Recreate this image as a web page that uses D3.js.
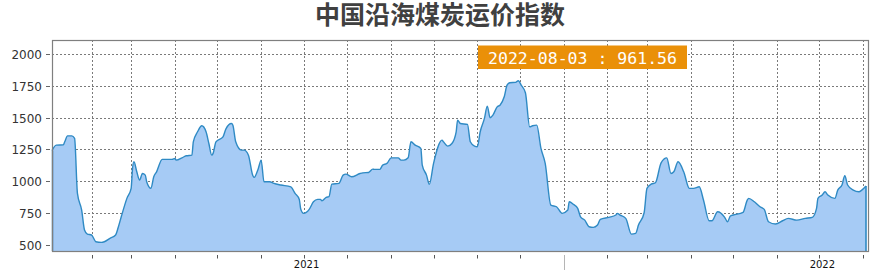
<!DOCTYPE html>
<html>
<head>
<meta charset="utf-8">
<script src="https://cdn.jsdelivr.net/npm/d3@7"></script>
<style>
  html, body { margin: 0; padding: 0; background: #fff; }
  svg { display: block; }
</style>
</head>
<body>
<svg id="chart" width="880" height="278"></svg>
<script>
const title = "中国沿海煤炭运价指数";
const dates = [
  "2021-01-04","2021-01-07","2021-01-12","2021-01-13","2021-01-15","2021-01-18","2021-01-20","2021-01-22","2021-01-25","2021-01-27",
  "2021-01-29","2021-02-01","2021-02-04","2021-02-08","2021-02-10","2021-02-14","2021-02-18","2021-02-20","2021-02-22","2021-02-26",
  "2021-03-01","2021-03-02","2021-03-03","2021-03-05","2021-03-07","2021-03-09","2021-03-11","2021-03-12","2021-03-15","2021-03-17",
  "2021-03-19","2021-03-23","2021-03-30","2021-04-01","2021-04-02","2021-04-06","2021-04-09","2021-04-13","2021-04-14","2021-04-17",
  "2021-04-20","2021-04-23","2021-04-25","2021-04-27","2021-04-28","2021-04-30","2021-05-05","2021-05-07","2021-05-11","2021-05-12",
  "2021-05-14","2021-05-18","2021-05-20","2021-05-23","2021-05-26","2021-05-27","2021-05-30","2021-06-01","2021-06-03","2021-06-07",
  "2021-06-10","2021-06-15","2021-06-22","2021-06-25","2021-06-28","2021-06-29","2021-07-01","2021-07-05","2021-07-08","2021-07-11",
  "2021-07-13","2021-07-14","2021-07-17","2021-07-19","2021-07-21","2021-07-26","2021-07-29","2021-07-31","2021-08-04","2021-08-10",
  "2021-08-12","2021-08-16","2021-08-19","2021-08-20","2021-08-24","2021-08-26","2021-08-29","2021-09-01","2021-09-06","2021-09-08",
  "2021-09-10","2021-09-13","2021-09-15","2021-09-18","2021-09-22","2021-09-23","2021-09-26","2021-09-28","2021-10-01","2021-10-07",
  "2021-10-08","2021-10-11","2021-10-14","2021-10-17","2021-10-18","2021-10-20","2021-10-25","2021-10-27","2021-10-30","2021-11-01",
  "2021-11-03","2021-11-06","2021-11-08","2021-11-10","2021-11-12","2021-11-15","2021-11-17","2021-11-20","2021-11-22","2021-11-24",
  "2021-11-28","2021-11-30","2021-12-02","2021-12-05","2021-12-08","2021-12-10","2021-12-13","2021-12-16","2021-12-19","2021-12-23",
  "2021-12-27","2021-12-31","2022-01-04","2022-01-05","2022-01-08","2022-01-11","2022-01-13","2022-01-16","2022-01-19","2022-01-22",
  "2022-01-25","2022-01-27","2022-02-02","2022-02-07","2022-02-08","2022-02-10","2022-02-14","2022-02-18","2022-02-21","2022-02-23",
  "2022-02-27","2022-03-01","2022-03-04","2022-03-07","2022-03-11","2022-03-15","2022-03-18","2022-03-20","2022-03-23","2022-03-27",
  "2022-03-31","2022-04-03","2022-04-07","2022-04-10","2022-04-14","2022-04-16","2022-04-20","2022-04-25","2022-04-27","2022-04-29",
  "2022-05-01","2022-05-08","2022-05-11","2022-05-12","2022-05-16","2022-05-20","2022-05-23","2022-05-26","2022-05-31","2022-06-05",
  "2022-06-09","2022-06-15","2022-06-21","2022-06-26","2022-06-29","2022-06-30","2022-07-03","2022-07-05","2022-07-07","2022-07-12",
  "2022-07-14","2022-07-17","2022-07-19","2022-07-21","2022-07-25","2022-07-29","2022-07-31","2022-08-03"
];
const values = [
  1240,1283,1285,1309,1356,1356,1336,903,772,615,
  583,576,523,518,523,550,576,641,719,864,
  943,1100,1152,1073,1008,1060,1047,995,943,1034,
  1073,1171,1171,1178,1165,1183,1199,1204,1309,1388,
  1435,1388,1296,1204,1218,1309,1348,1409,1453,1440,
  1309,1244,1244,1204,1047,1029,1100,1165,995,995,
  982,969,955,903,856,780,746,778,837,856,
  856,845,872,877,976,982,1047,1055,1034,1060,
  1065,1068,1094,1092,1092,1126,1139,1183,1183,1165,
  1165,1183,1309,1283,1257,1126,1047,974,1139,1322,
  1309,1275,1296,1388,1479,1453,1446,1309,1275,1270,
  1388,1493,1590,1498,1519,1584,1597,1663,1755,1774,
  1777,1790,1755,1695,1427,1435,1440,1257,1139,811,
  798,746,772,837,817,785,719,693,641,636,
  654,699,715,733,746,733,707,583,589,654,
  751,943,976,987,1144,1183,1060,1073,1152,1073,
  943,943,955,851,688,688,759,715,680,725,
  733,754,851,864,837,798,777,680,662,688,
  707,693,707,715,785,864,890,916,890,864,
  929,969,1042,969,929,916,929,961.56
];
const yTicks = [500, 750, 1000, 1250, 1500, 1750, 2000];
const xLabelDates = ["2021-07-01", "2022-07-01"];
const xLabelTexts = ["2021", "2022"];
const yearBoundary = "2022-01-01";
const tooltipText = "2022-08-03 : 961.56";

const parse = d3.timeParse("%Y-%m-%d");
const data = dates.map((d, i) => ({ date: parse(d), value: values[i] }));

const svg = d3.select("#chart");
const pLeft = 52, pRight = 866, frameRight = 868, pTop = 40, pBottom = 251;

const x = d3.scaleTime()
  .domain([parse("2021-01-04"), parse("2022-08-03")])
  .range([pLeft, pRight]);
const y = d3.scaleLinear().domain([450, 2110]).range([pBottom, pTop]);

// Title
svg.append("text")
  .attr("x", 440).attr("y", 24)
  .attr("text-anchor", "middle")
  .attr("font-family", "'Noto Sans CJK SC', sans-serif")
  .attr("font-weight", "bold")
  .attr("font-size", 25)
  .attr("fill", "#404040")
  .text(title);

// Grid
const monthTicks = d3.timeMonth.range(parse("2021-02-01"), d3.timeDay.offset(parse("2022-08-03"), 1));
const grid = svg.append("g").attr("stroke", "#7a7a7a").attr("stroke-width", 1).attr("stroke-dasharray", "2,2");
yTicks.forEach(v => {
  const yy = Math.round(y(v)) + 0.5;
  grid.append("line").attr("x1", pLeft).attr("x2", frameRight).attr("y1", yy).attr("y2", yy);
});
monthTicks.forEach(d => {
  const xx = Math.round(x(d)) + 0.5;
  grid.append("line").attr("x1", xx).attr("x2", xx).attr("y1", pTop).attr("y2", pBottom);
});

// Area
const area = d3.area()
  .x(d => x(d.date)).y0(pBottom).y1(d => y(d.value))
  .curve(d3.curveMonotoneX);
svg.append("path").datum(data)
  .attr("d", area)
  .attr("fill", "#a6cbf5");

const line = d3.line()
  .x(d => x(d.date)).y(d => y(d.value))
  .curve(d3.curveMonotoneX);
svg.append("path").datum(data)
  .attr("d", line)
  .attr("fill", "none")
  .attr("stroke", "#2f8ac4")
  .attr("stroke-width", 1.4);
// vertical edges of the area
const first = data[0], last = data[data.length - 1];
svg.append("line").attr("x1", x(first.date) + 0.5).attr("x2", x(first.date) + 0.5)
  .attr("y1", y(first.value)).attr("y2", pBottom)
  .attr("stroke", "#1f6ea8").attr("stroke-width", 1.4);
svg.append("line").attr("x1", x(last.date)).attr("x2", x(last.date))
  .attr("y1", y(last.value)).attr("y2", pBottom)
  .attr("stroke", "#2f8ac4").attr("stroke-width", 1.6);

// Frame
svg.append("rect")
  .attr("x", pLeft + 0.5).attr("y", pTop + 0.5)
  .attr("width", frameRight - pLeft).attr("height", pBottom - pTop)
  .attr("fill", "none").attr("stroke", "#7f7f7f").attr("stroke-width", 1.2);

// Y ticks & labels
const yAxis = svg.append("g");
yTicks.forEach(v => {
  const yy = Math.round(y(v)) + 0.5;
  yAxis.append("line").attr("x1", 46).attr("x2", 50).attr("y1", yy).attr("y2", yy)
    .attr("stroke", "#666").attr("stroke-width", 1);
  yAxis.append("text").attr("x", 42).attr("y", yy + 4.5)
    .attr("text-anchor", "end")
    .attr("font-family", "'DejaVu Sans', sans-serif")
    .attr("font-size", 12).attr("fill", "#333")
    .text(v);
});

// X ticks & labels
const xAxis = svg.append("g");
monthTicks.forEach(d => {
  const xx = Math.round(x(d)) + 0.5;
  xAxis.append("line").attr("x1", xx).attr("x2", xx).attr("y1", 255).attr("y2", 258.5)
    .attr("stroke", "#555").attr("stroke-width", 1);
});
{
  const xx = Math.round(x(parse(yearBoundary))) + 0.5;
  xAxis.append("line").attr("x1", xx).attr("x2", xx).attr("y1", 255).attr("y2", 270)
    .attr("stroke", "#b5b5b5").attr("stroke-width", 1);
}
xLabelDates.forEach((d, i) => {
  xAxis.append("text").attr("x", x(parse(d)) + 3).attr("y", 268)
    .attr("text-anchor", "middle")
    .attr("font-family", "'DejaVu Sans', sans-serif")
    .attr("font-size", 10).attr("fill", "#111")
    .text(xLabelTexts[i]);
});

// Tooltip
svg.append("rect").attr("x", 478).attr("y", 45.5).attr("width", 209).attr("height", 23.5)
  .attr("fill", "#ea9008");
svg.append("text").attr("x", 488).attr("y", 63.5)
  .attr("font-family", "'DejaVu Sans Mono', monospace")
  .attr("font-size", 16.5).attr("fill", "#fff")
  .attr("textLength", 189).attr("lengthAdjust", "spacingAndGlyphs")
  .text(tooltipText);
</script>
</body>
</html>
